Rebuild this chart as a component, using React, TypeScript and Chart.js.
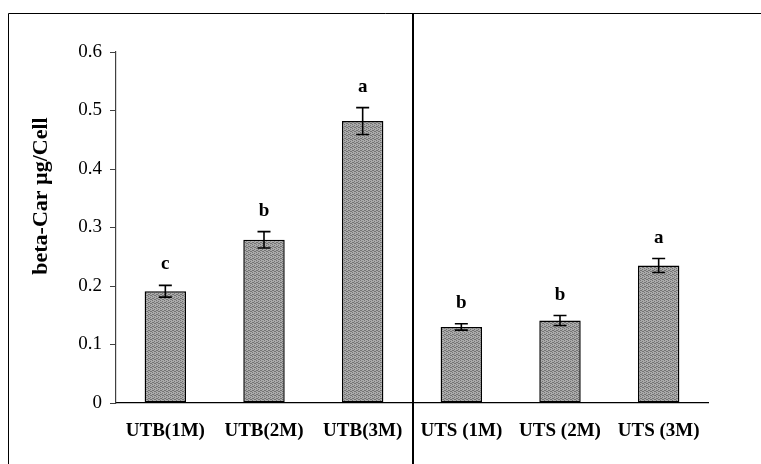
import React, { useEffect, useRef } from "react";
import { Chart, registerables } from "chart.js";

Chart.register(...registerables);

const categories = ["UTB(1M)", "UTB(2M)", "UTB(3M)", "UTS (1M)", "UTS (2M)", "UTS (3M)"];
const values = [0.191, 0.279, 0.482, 0.130, 0.141, 0.235];
const errors = [0.010, 0.014, 0.023, 0.0055, 0.0085, 0.012];
const letters = ["c", "b", "a", "b", "b", "a"];
const yTitle = "beta-Car \u00b5g/Cell";

function makePattern(): CanvasPattern | string {
  const c = document.createElement("canvas");
  c.width = 4;
  c.height = 4;
  const g = c.getContext("2d");
  if (!g) return "#9a9a9a";
  g.fillStyle = "#ababab";
  g.fillRect(0, 0, 4, 4);
  g.fillStyle = "#747474";
  const pts = [[0, 0], [2, 1], [1, 2], [3, 3], [2, 3], [0, 2]];
  pts.forEach(([x, y]) => g.fillRect(x, y, 1, 1));
  const p = g.createPattern(c, "repeat");
  return p || "#9a9a9a";
}

export default function App() {
  const ref = useRef<HTMLCanvasElement | null>(null);

  useEffect(() => {
    const canvas = ref.current;
    if (!canvas) return;

    const extras = {
      id: "extras",
      afterDatasetsDraw(chart: any) {
        const ctx = chart.ctx;
        const meta = chart.getDatasetMeta(0);
        const y = chart.scales.y;
        ctx.save();
        ctx.strokeStyle = "#000";
        ctx.lineWidth = 1.6;
        meta.data.forEach((bar: any, i: number) => {
          const x = bar.x;
          const top = y.getPixelForValue(values[i] + errors[i]);
          const bot = y.getPixelForValue(values[i] - errors[i]);
          ctx.beginPath();
          ctx.moveTo(x, top);
          ctx.lineTo(x, bot);
          ctx.moveTo(x - 6.5, top);
          ctx.lineTo(x + 6.5, top);
          ctx.moveTo(x - 6.5, bot);
          ctx.lineTo(x + 6.5, bot);
          ctx.stroke();
          ctx.fillStyle = "#000";
          ctx.font = "bold 19px 'Liberation Serif', 'Times New Roman', serif";
          ctx.textAlign = "center";
          ctx.textBaseline = "alphabetic";
          ctx.fillText(letters[i], x, top - 16);
        });
        ctx.restore();
      },
      afterDraw(chart: any) {
        const ctx = chart.ctx;
        ctx.save();
        ctx.strokeStyle = "#000";
        ctx.lineWidth = 1;
        ctx.beginPath();
        ctx.moveTo(8.5, 470);
        ctx.lineTo(8.5, 13.5);
        ctx.lineTo(770, 13.5);
        ctx.stroke();
        ctx.lineWidth = 2;
        ctx.beginPath();
        ctx.moveTo(413, 14);
        ctx.lineTo(413, 470);
        ctx.stroke();
        ctx.translate(41, 196);
        ctx.rotate(-Math.PI / 2);
        ctx.fillStyle = "#000";
        ctx.font = "bold 22px 'Liberation Serif', 'Times New Roman', serif";
        ctx.textAlign = "center";
        ctx.textBaseline = "middle";
        ctx.fillText(yTitle, 0, 0);
        ctx.restore();
      },
    };

    const chart = new Chart(canvas, {
      type: "bar",
      data: {
        labels: categories,
        datasets: [
          {
            data: values,
            backgroundColor: makePattern() as any,
            borderColor: "#000",
            borderWidth: 1.5,
            borderSkipped: false,
            barPercentage: 0.42,
            categoryPercentage: 1,
          },
        ],
      },
      options: {
        responsive: false,
        animation: false,
        layout: { padding: { left: 0, right: 53, top: 52, bottom: 0 } },
        plugins: { legend: { display: false }, tooltip: { enabled: false }, title: { display: false } },
        scales: {
          x: {
            afterFit: (s: any) => {
              s.height = 61;
            },
            grid: { display: false, drawTicks: false },
            border: { display: true, color: "#000", width: 1.2 },
            ticks: {
              color: "#000",
              padding: 17,
              maxRotation: 0,
              autoSkip: false,
              font: { family: "'Liberation Serif', 'Times New Roman', serif", size: 19, weight: "bold" },
            },
          },
          y: {
            min: 0,
            max: 0.6,
            afterFit: (s: any) => {
              s.width = 116;
            },
            grid: { drawOnChartArea: false, drawTicks: true, tickLength: 6, color: "#404040" },
            border: { display: true, color: "#404040", width: 1.2 },
            ticks: {
              stepSize: 0.1,
              color: "#000",
              padding: 8,
              callback: (v: any) => String(Math.round(Number(v) * 10) / 10),
              font: { family: "'Liberation Serif', 'Times New Roman', serif", size: 19 },
            },
          },
        },
      },
      plugins: [extras],
    });

    return () => chart.destroy();
  }, []);

  return (
    <canvas
      ref={ref}
      width={761}
      height={464}
      style={{ position: "fixed", left: 0, top: 0, width: 761, height: 464, background: "#fff" }}
    />
  );
}
